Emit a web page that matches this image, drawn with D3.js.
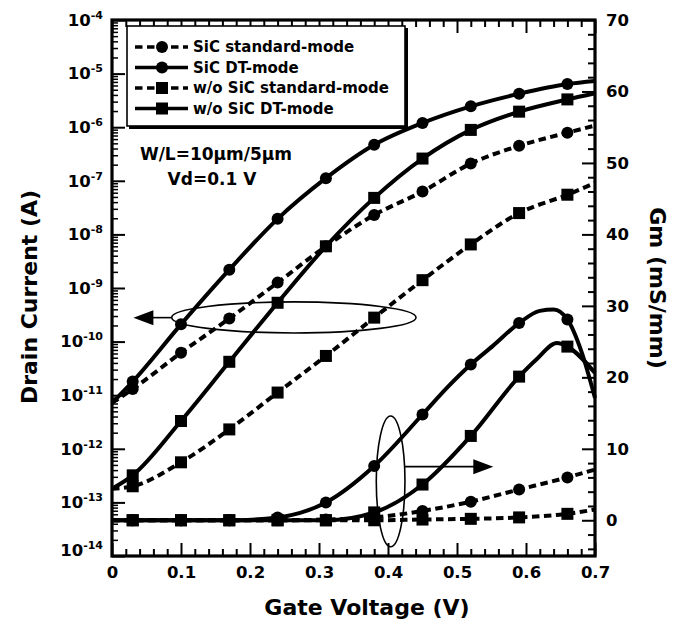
<!DOCTYPE html>
<html>
<head>
<meta charset="utf-8">
<script src="https://cdn.jsdelivr.net/npm/d3@7"></script>
<style>
body { margin: 0; background: #fff; }
svg { display: block; font-family: "DejaVu Sans", sans-serif; font-weight: bold; }
</style>
</head>
<body>
<svg id="chart" width="682" height="624"></svg>
<script>
// gate voltage grid (V) - lines run 0..0.7, markers sit on the inner points
var vg = [0, 0.03, 0.10, 0.17, 0.24, 0.31, 0.38, 0.45, 0.52, 0.59, 0.66, 0.70];
var markerVg = [0.03, 0.10, 0.17, 0.24, 0.31, 0.38, 0.45, 0.52, 0.59, 0.66];

// drain current (A), left log axis
var idSicStd = [7.2e-12, 1.3e-11, 6.2e-11, 2.7e-10, 1.26e-9, 6.0e-9, 2.3e-8, 6.3e-8, 2.1e-7, 4.5e-7, 7.9e-7, 1.07e-6];
var idSicDt  = [7.2e-12, 1.8e-11, 2.1e-10, 2.2e-9, 1.95e-8, 1.12e-7, 4.7e-7, 1.2e-6, 2.45e-6, 4.2e-6, 6.4e-6, 7.3e-6];
var idWoStd  = [1.8e-13, 2.0e-13, 5.6e-13, 2.3e-12, 1.12e-11, 5.4e-11, 2.8e-10, 1.4e-9, 6.5e-9, 2.5e-8, 5.5e-8, 9.1e-8];
var idWoDt   = [1.8e-13, 3.2e-13, 3.3e-12, 4.2e-11, 5.3e-10, 6.0e-9, 4.8e-8, 2.6e-7, 8.9e-7, 1.95e-6, 3.3e-6, 4.3e-6];

// transconductance (mS/mm), right axis
var gmSicStd = [0, 0, 0, 0, 0, 0.1, 0.4, 1.3, 2.6, 4.3, 6.0, 7.1];
var gmWoStd  = [0, 0, 0, 0, 0, 0, 0, 0.1, 0.2, 0.4, 0.9, 1.5];
// the DT-mode Gm traces were read at a few extra voltages around the peak
var vgGmSicDt = [0, 0.03, 0.10, 0.17, 0.24, 0.31, 0.38, 0.45, 0.485, 0.52, 0.552, 0.59, 0.62, 0.64, 0.66, 0.68, 0.70];
var gmSicDt   = [0, 0, 0, 0, 0.4, 2.5, 7.6, 14.8, 18.5, 21.8, 24.4, 27.6, 29.3, 29.5, 28.1, 23.7, 17.1];
var vgGmWoDt  = [0, 0.03, 0.10, 0.17, 0.24, 0.31, 0.38, 0.45, 0.52, 0.59, 0.615, 0.645, 0.66, 0.70];
var gmWoDt    = [0, 0, 0, 0, 0, 0, 1.1, 5.0, 11.8, 20.1, 22.5, 24.8, 24.3, 20.6];

// ticks
var xTicks = [0, 0.1, 0.2, 0.3, 0.4, 0.5, 0.6, 0.7];
var xTickLabels = ['0', '0.1', '0.2', '0.3', '0.4', '0.5', '0.6', '0.7'];
var idExponents = [-14, -13, -12, -11, -10, -9, -8, -7, -6, -5, -4];
var gmTicks = [0, 10, 20, 30, 40, 50, 60, 70];

var legendNames = ['SiC standard-mode', 'SiC DT-mode', 'w/o SiC standard-mode', 'w/o SiC DT-mode'];

(function() {
var svg = d3.select('#chart');
var pLeft = 112, pRight = 595, pTop = 20, pBottom = 556;

var x  = d3.scaleLinear().domain([0, 0.7]).range([pLeft, pRight]);
var yI = d3.scaleLog().domain([1e-14, 1e-4]).range([pBottom, pTop]);
var yG = d3.scaleLinear().domain([-5, 70]).range([pBottom, pTop]);

var series = [
    { vg: vg, val: idSicStd, y: yI, dash: true,  shape: 'circle' },
    { vg: vg, val: idSicDt,  y: yI, dash: false, shape: 'circle' },
    { vg: vg, val: idWoStd,  y: yI, dash: true,  shape: 'square' },
    { vg: vg, val: idWoDt,   y: yI, dash: false, shape: 'square' },
    { vg: vg, val: gmSicStd, y: yG, dash: true,  shape: 'circle' },
    { vg: vgGmSicDt, val: gmSicDt, y: yG, dash: false, shape: 'circle' },
    { vg: vg, val: gmWoStd,  y: yG, dash: true,  shape: 'square' },
    { vg: vgGmWoDt,  val: gmWoDt,  y: yG, dash: false, shape: 'square' }
];

function dashOf(s) { return s.dash ? '7.5,4.5' : null; }

function drawMarker(g, shape, cx, cy) {
    if (shape === 'circle') {
        g.append('circle').attr('cx', cx).attr('cy', cy).attr('r', 6).attr('fill', '#000');
    } else {
        g.append('rect').attr('x', cx - 6).attr('y', cy - 6)
            .attr('width', 12).attr('height', 12).attr('fill', '#000');
    }
}

// ---- axes ----
function styleAxis(g, fontSize) {
    g.select('.domain').remove();
    g.attr('font-family', null).attr('font-size', fontSize);
    g.selectAll('.tick line').attr('stroke', '#000').attr('stroke-width', 2);
    g.selectAll('.tick text').attr('fill', '#000');
}

var xMinor = d3.range(1, 35).filter(function(i) { return i % 5 !== 0; }).map(function(i) { return i * 0.02; });
var iMinor = [];
idExponents.slice(0, -1).forEach(function(e) {
    for (var k = 2; k <= 9; k++) iMinor.push(k * Math.pow(10, e));
});
var gMinor = d3.range(-4, 70, 2).filter(function(v) { return v % 10 !== 0; });

svg.append('g').attr('transform', 'translate(0,' + pBottom + ')')
    .call(d3.axisBottom(x).tickValues(xTicks).tickSize(-13).tickPadding(10)
        .tickFormat(function(d, i) { return xTickLabels[i]; }))
    .call(styleAxis, 16.5);
svg.append('g').attr('transform', 'translate(0,' + pBottom + ')')
    .call(d3.axisBottom(x).tickValues(xMinor).tickSize(-7).tickFormat(''))
    .call(styleAxis, 16);
svg.append('g').attr('transform', 'translate(0,' + pTop + ')')
    .call(d3.axisTop(x).tickValues(xTicks).tickSize(-13).tickFormat(''))
    .call(styleAxis, 16);
svg.append('g').attr('transform', 'translate(0,' + pTop + ')')
    .call(d3.axisTop(x).tickValues(xMinor).tickSize(-7).tickFormat(''))
    .call(styleAxis, 16);

var gl = svg.append('g').attr('transform', 'translate(' + pLeft + ',0)')
    .call(d3.axisLeft(yI).tickValues(idExponents.map(function(e) { return Math.pow(10, e); }))
        .tickSize(-13).tickPadding(9).tickFormat(''))
    .call(styleAxis, 16.5);
gl.selectAll('.tick text').each(function(d) {
    var t = d3.select(this);
    var e = Math.round(Math.log10(d));
    if (e === -14) t.attr('y', -6);
    t.append('tspan').text('10');
    t.append('tspan').attr('dy', -7).attr('font-size', 11).text(e);
});
svg.append('g').attr('transform', 'translate(' + pLeft + ',0)')
    .call(d3.axisLeft(yI).tickValues(iMinor).tickSize(-6).tickFormat(''))
    .call(styleAxis, 16)
    .selectAll('.tick line').attr('stroke-width', 1.5);

svg.append('g').attr('transform', 'translate(' + pRight + ',0)')
    .call(d3.axisRight(yG).tickValues(gmTicks).tickSize(-13).tickPadding(11))
    .call(styleAxis, 16.5);
svg.append('g').attr('transform', 'translate(' + pRight + ',0)')
    .call(d3.axisRight(yG).tickValues(gMinor).tickSize(-7).tickFormat(''))
    .call(styleAxis, 16);

svg.append('rect')
    .attr('x', pLeft).attr('y', pTop)
    .attr('width', pRight - pLeft).attr('height', pBottom - pTop)
    .attr('fill', 'none').attr('stroke', '#000').attr('stroke-width', 3.2);

// axis titles
svg.append('text').attr('x', 367).attr('y', 615).attr('text-anchor', 'middle')
    .attr('font-size', 22).text('Gate Voltage (V)');
svg.append('text').attr('transform', 'translate(37,297) rotate(-90)').attr('text-anchor', 'middle')
    .attr('font-size', 22).text('Drain Current (A)');
svg.append('text').attr('transform', 'translate(650,288) rotate(90)').attr('text-anchor', 'middle')
    .attr('font-size', 22).text('Gm (mS/mm)');

// ---- curves ----
var plot = svg.append('g');
series.forEach(function(s) {
    var pts = s.vg.map(function(v, i) { return [v, s.val[i]]; });
    var line = d3.line()
        .curve(d3.curveMonotoneX)
        .x(function(d) { return x(d[0]); })
        .y(function(d) { return s.y(d[1]); });
    plot.append('path')
        .datum(pts)
        .attr('d', line)
        .attr('fill', 'none')
        .attr('stroke', '#000')
        .attr('stroke-width', 4)
        .attr('stroke-dasharray', dashOf(s));
    pts.forEach(function(p) {
        var onGrid = markerVg.some(function(m) { return Math.abs(m - p[0]) < 1e-9; });
        if (onGrid) drawMarker(plot, s.shape, x(p[0]), s.y(p[1]));
    });
});

// ---- annotations: ellipses and arrows ----
var ann = svg.append('g').attr('fill', 'none').attr('stroke', '#000').attr('stroke-width', 1.6);

function arrow(x1, y1, x2, y2) {
    var dir = x2 > x1 ? 1 : -1;
    ann.append('line').attr('x1', x1).attr('y1', y1).attr('x2', x2 - dir * 18).attr('y2', y2);
    ann.append('path')
        .attr('d', 'M' + x2 + ',' + y2 + 'L' + (x2 - dir * 20) + ',' + (y2 - 7.5) + 'L' + (x2 - dir * 20) + ',' + (y2 + 7.5) + 'Z')
        .attr('fill', '#000').attr('stroke', 'none');
}

// current curves ellipse (pointing to left axis)
var e1 = { x0: 0.0865, x1: 0.4406, yTop: 5.5e-10, yBot: 1.45e-10, yMid: 2.8e-10, tip: 0.031 };
ann.append('ellipse')
    .attr('cx', (x(e1.x0) + x(e1.x1)) / 2).attr('cy', (yI(e1.yTop) + yI(e1.yBot)) / 2)
    .attr('rx', (x(e1.x1) - x(e1.x0)) / 2).attr('ry', (yI(e1.yBot) - yI(e1.yTop)) / 2);
arrow(x(e1.x0), yI(e1.yMid), x(e1.tip), yI(e1.yMid));

// Gm curves ellipse (pointing to right axis)
var e2 = { x0: 0.383, x1: 0.4246, yTop: 14.6, yBot: -3.7, yArrow: 7.5, tip: 0.5526 };
ann.append('ellipse')
    .attr('cx', (x(e2.x0) + x(e2.x1)) / 2).attr('cy', (yG(e2.yTop) + yG(e2.yBot)) / 2)
    .attr('rx', (x(e2.x1) - x(e2.x0)) / 2).attr('ry', (yG(e2.yBot) - yG(e2.yTop)) / 2);
arrow(x(e2.x1), yG(e2.yArrow), x(e2.tip), yG(e2.yArrow));

// device conditions
svg.append('text').attr('x', 216).attr('y', 160).attr('text-anchor', 'middle')
    .attr('font-size', 17).text('W/L=10\u03bcm/5\u03bcm');
svg.append('text').attr('x', 212).attr('y', 185).attr('text-anchor', 'middle')
    .attr('font-size', 17).text('Vd=0.1 V');

// ---- legend ----
var lg = svg.append('g');
lg.append('rect').attr('x', 127).attr('y', 26).attr('width', 278).attr('height', 100)
    .attr('fill', '#fff').attr('stroke', '#000').attr('stroke-width', 1.6);
lg.append('path').attr('d', 'M129,127.5H406.5V28')
    .attr('fill', 'none').attr('stroke', '#000').attr('stroke-width', 3);
legendNames.forEach(function(name, i) {
    var s = series[i];
    var ly = 47 + i * 20.5;
    lg.append('line').attr('x1', 135).attr('x2', 188).attr('y1', ly).attr('y2', ly)
        .attr('stroke', '#000').attr('stroke-width', 3.6).attr('stroke-dasharray', dashOf(s));
    drawMarker(lg, s.shape, 162, ly);
    lg.append('text').attr('x', 193).attr('y', ly).attr('dy', '0.36em')
        .attr('font-size', 15).text(name);
});
})();
</script>
</body>
</html>
